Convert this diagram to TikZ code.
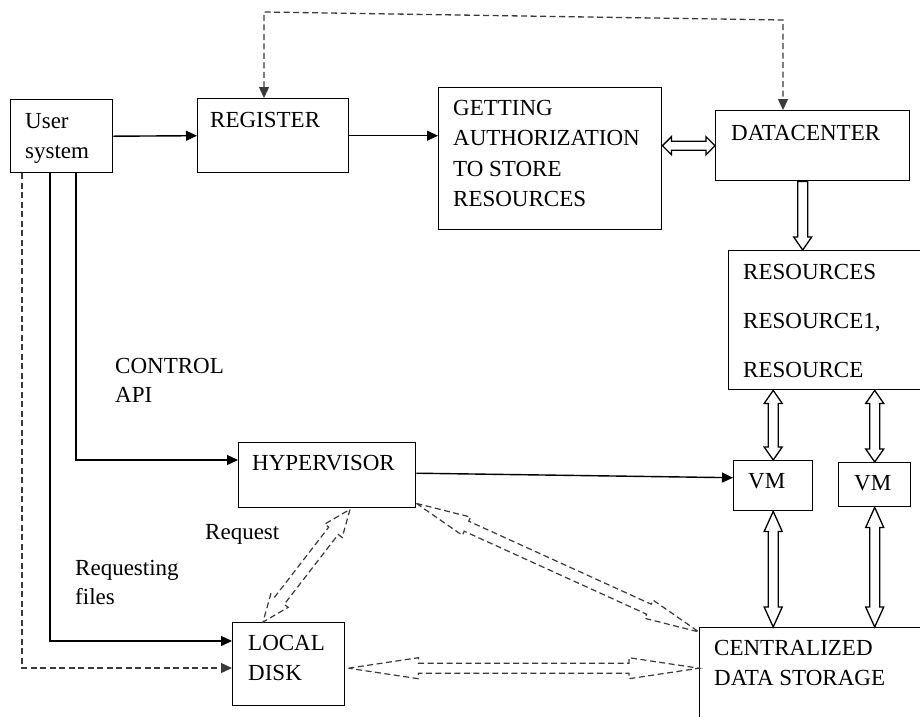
\documentclass[tikz,border=0pt]{standalone}
\usepackage{fontspec}
\setmainfont{Liberation Serif}
\usetikzlibrary{calc,arrows.meta}
\definecolor{dashgray}{HTML}{3A3A3A}
% #1 style, #2 from, #3 to, #4 head length, #5 head half width, #6 shaft half width
\newcommand\dblarrow[6]{%
  \draw[#1] let \p1=(#2), \p2=(#3), \n1={atan2(\y2-\y1,\x2-\x1)}, \n2={veclen(\x2-\x1,\y2-\y1)} in
   {[shift={(\p1)}, rotate=\n1]
    (0pt,0pt) -- (#4pt,#5pt) -- (#4pt,#6pt) -- ({\n2-#4pt},#6pt) -- ({\n2-#4pt},#5pt)
    -- ({\n2+0pt},0pt) -- ({\n2-#4pt},-#5pt) -- ({\n2-#4pt},-#6pt) -- (#4pt,-#6pt)
    -- (#4pt,-#5pt) -- cycle};
}
\newcommand\onearrow[6]{%
  \draw[#1] let \p1=(#2), \p2=(#3), \n1={atan2(\y2-\y1,\x2-\x1)}, \n2={veclen(\x2-\x1,\y2-\y1)} in
   {[shift={(\p1)}, rotate=\n1]
    (0pt,#6pt) -- ({\n2-#4pt},#6pt) -- ({\n2-#4pt},#5pt)
    -- ({\n2+0pt},0pt) -- ({\n2-#4pt},-#5pt) -- ({\n2-#4pt},-#6pt) -- (0pt,-#6pt) -- cycle};
}
\tikzset{
  box/.style={draw, line width=1.4pt, anchor=north west, inner sep=0pt, fill=white},
  lbl/.style={inner sep=0pt, anchor=north west, align=left, font=\fontsize{23}{30.5}\selectfont},
  conn/.style={line width=1.4pt, -{Triangle[length=11pt,width=10pt]}},
  dconn/.style={line width=1.3pt, color=dashgray, dash pattern=on 6pt off 3.5pt},
  blk/.style={line width=1.3pt, fill=white},
  dblk/.style={line width=1.2pt, color=dashgray, dash pattern=on 6pt off 3.5pt, fill=white},
}
\begin{document}
\begin{tikzpicture}[x=1pt,y=-1pt]
\clip (0,0) rectangle (920,716);
\fill[white] (0,0) rectangle (920,716);

% boxes
\node[box, minimum width=102pt, minimum height=73pt] (user) at (10,99) {};
\node[box, minimum width=151pt, minimum height=74pt] (register) at (197,98) {};
\node[box, minimum width=223pt, minimum height=142pt] (getting) at (438,87) {};
\node[box, minimum width=194pt, minimum height=70pt] (datacenter) at (715,110) {};
\node[box, minimum width=205pt, minimum height=139pt] (resources) at (728,250) {};
\node[box, minimum width=79pt, minimum height=50pt] (vm1) at (733,460) {};
\node[box, minimum width=72pt, minimum height=44pt] (vm2) at (838,462) {};
\node[box, minimum width=177pt, minimum height=65pt] (hyper) at (238,442) {};
\node[box, minimum width=112pt, minimum height=83pt] (local) at (232,622) {};
\node[box, minimum width=230pt, minimum height=100pt] (central) at (699,627) {};

% texts
\node[lbl] (tuser) at ($(user.north west)+(15,14)$) {User\\system};
\node[lbl] (treg) at ($(register.north west)+(13,14)$) {REGISTER};
\node[lbl] (tget) at ($(getting.north west)+(15,13)$) {GETTING\\AUTHORIZATION\\TO STORE\\RESOURCES};
\node[lbl] (tdc) at ($(datacenter.north west)+(16,15)$) {DATACENTER};
\node[lbl] (tres) at ($(resources.north west)+(15,14)$) {RESOURCES\\[18.5pt]RESOURCE1,\\[18.5pt]RESOURCE};
\node[lbl] (tvm1) at ($(vm1.north west)+(15,13)$) {VM};
\node[lbl] (tvm2) at ($(vm2.north west)+(16,13)$) {VM};
\node[lbl] (thyp) at ($(hyper.north west)+(14,13)$) {HYPERVISOR};
\node[lbl] (tloc) at ($(local.north west)+(16,13)$) {LOCAL\\DISK};
\node[lbl] (tcen) at ($(central.north west)+(15,13)$) {CENTRALIZED\\DATA STORAGE};
\node[lbl, font=\fontsize{23}{29}\selectfont] (tapi) at (115,358) {CONTROL\\API};
\node[lbl] (treq) at (205,524) {Request};
\node[lbl, font=\fontsize{23}{29}\selectfont] (treqf) at (75,560) {Requesting\\files};

% solid connectors
\draw[conn] (user.east) -- (register.west);
\draw[conn] (register.east) -- (register.east -| getting.west);
\draw[conn] ($(hyper.east)+(0,-2)$) -- ($(vm1.west)+(0,-8)$);

\coordinate (c76) at (76,460);
\coordinate (c50) at (50,641);
\coordinate (c22) at (22,668);
\draw[conn] (user.south -| c76) -- (c76) -- (c76 -| hyper.west);
\draw[conn] (user.south -| c50) -- (c50) -- (c50 -| local.west);
\draw[dconn, -{Triangle[length=11pt,width=10pt]}] (user.south -| c22) -- (c22) -- (c22 -| local.west);

% top dashed connector
\coordinate (tl) at (264,12);
\coordinate (tr) at (783,20);
\draw[dconn, {Triangle[length=11pt,width=10pt]}-{Triangle[length=11pt,width=10pt]}]
  (register.north -| tl) -- (tl) -- (tr) -- (datacenter.north -| tr);

% block arrows
\dblarrow{blk}{getting.east |- datacenter.west}{datacenter.west}{9}{9}{4.5}
\onearrow{blk}{$(datacenter.south)+(-10,0)$}{$(datacenter.south |- resources.north)+(-10,0)$}{13}{9}{5}
\dblarrow{blk}{vm1.north |- resources.south}{vm1.north}{13}{9}{5}
\dblarrow{blk}{vm2.north |- resources.south}{vm2.north}{13}{9}{5}
\dblarrow{blk}{vm1.south}{vm1.south |- central.north}{20}{9}{5}
\dblarrow{blk}{vm2.south}{vm2.south |- central.north}{20}{9}{5}

% dashed block arrows
\dblarrow{dblk}{$(hyper.south west)+(112,1)$}{$(local.north west)+(31,0)$}{27}{11}{6}
\dblarrow{dblk}{$(hyper.south east)+(0,-5)$}{$(central.north west)+(0,5)$}{55}{10}{5.5}
\dblarrow{dblk}{$(local.east)+(3,4)$}{$(central.west |- local.east)+(0,4)$}{70}{10.5}{5}
\end{tikzpicture}
\end{document}
